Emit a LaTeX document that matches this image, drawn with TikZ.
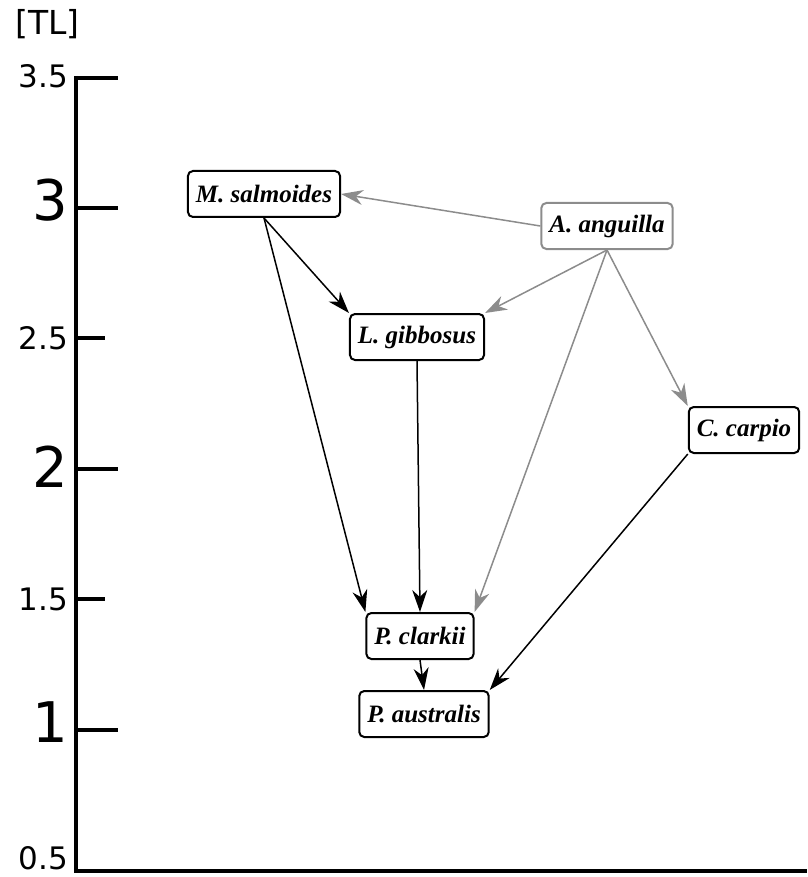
\documentclass[tikz,border=0pt]{standalone}
\usepackage{fontspec}
\setmainfont{DejaVu Sans}
\newfontfamily\speciesfont{Liberation Serif}
\usetikzlibrary{arrows.meta}
\definecolor{edgegray}{RGB}{140,140,140}

\begin{document}
\begin{tikzpicture}[x=1pt,y=-1pt,
  species/.style={draw,line width=2pt,rounded corners=5pt,fill=white,
    minimum height=46pt,inner xsep=8pt,
    font=\speciesfont\fontsize{25}{30}\selectfont\bfseries\itshape},
  feed/.style={-{Stealth[length=22pt,width=15pt,inset=7pt]},line width=1.5pt},
  grayfeed/.style={feed,draw=edgegray,fill=edgegray}]
\useasboundingbox (0,0) rectangle (807,877);

% trophic level axis
\draw[line width=4pt] (76,76) -- (76,871) -- (807,871);
\foreach \y/\len in {78/118,208/118,338/105,469/118,599/105,730/118}
  \draw[line width=3.5pt] (76,\y) -- (\len,\y);
\node[anchor=north west,inner sep=0pt,font=\fontsize{33}{36}\selectfont] (unit) at (15,9) {[TL]};
\foreach \y/\t [count=\i] in {76/3.5,338/2.5,599/1.5,858/0.5}
  \node[anchor=east,inner sep=0pt,font=\fontsize{31}{32}\selectfont] (half\i) at (68,\y) {\t};
\foreach \y/\t [count=\i] in {200/3,467/2,722/1}
  \node[anchor=east,inner sep=0pt,font=\fontsize{56}{58}\selectfont] (whole\i) at (68,\y) {\t};

% species
\node[species] (ms) at (264,194) {M. salmoides};
\node[species,draw=edgegray] (aa) at (607,226) {A. anguilla};
\node[species] (lg) at (417,337) {L. gibbosus};
\node[species] (cc) at (744,430) {C. carpio};
\node[species] (pc) at (420,636) {P. clarkii};
\node[species] (pa) at (424,714) {P. australis};

% feeding links
\draw[grayfeed] (aa.west) -- (ms.east);
\draw[grayfeed] (aa.south) -- (lg.north east);
\draw[grayfeed] (aa.south) -- (pc.north east);
\draw[grayfeed] (aa.south) -- (cc.north west);
\draw[feed] (ms.south) -- (lg.north west);
\draw[feed] (ms.south) -- (pc.north west);
\draw[feed] (lg.south) -- (pc.north);
\draw[feed] (pc.south) -- (pa.north);
\draw[feed] (cc.south west) -- (pa.north east);
\end{tikzpicture}
\end{document}
